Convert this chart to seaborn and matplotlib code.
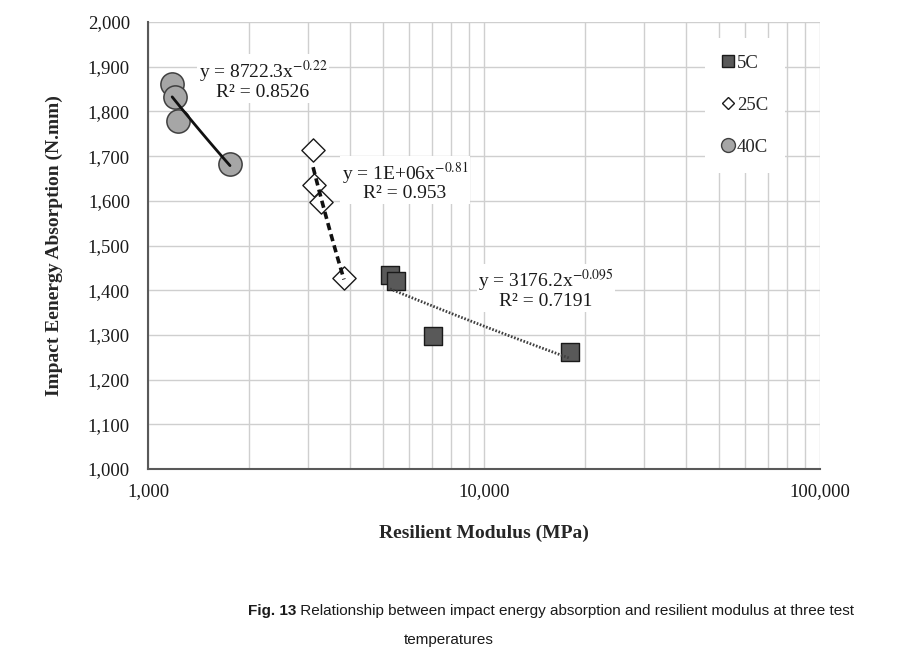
import numpy as np
import pandas as pd
import matplotlib
matplotlib.use("Agg")
import matplotlib.pyplot as plt
import seaborn as sns
from matplotlib.ticker import FuncFormatter, LogLocator
from matplotlib.lines import Line2D

# ---- data ----
mod_5c = [5250, 5470, 7050, 18000]
ene_5c = [1434, 1421, 1298, 1262]
mod_25c = [3100, 3120, 3275, 3830]
ene_25c = [1714, 1635, 1597, 1427]
mod_40c = [1180, 1203, 1228, 1754]
ene_40c = [1861, 1832, 1778, 1682]
series_names = ["5C", "25C", "40C"]
eq_texts = ["y = 3176.2x$^{-0.095}$\nR² = 0.7191",
            "y = 1E+06x$^{-0.81}$\nR² = 0.953",
            "y = 8722.3x$^{-0.22}$\nR² = 0.8526"]
y_ticks = list(range(1000, 2001, 100))
caption_fig = "Fig. 13"
caption_line1 = " Relationship between impact energy absorption and resilient modulus at three test"
caption_line2 = "temperatures"

df = pd.concat([
    pd.DataFrame({"mod": mod_5c, "ene": ene_5c, "T": "5C"}),
    pd.DataFrame({"mod": mod_25c, "ene": ene_25c, "T": "25C"}),
    pd.DataFrame({"mod": mod_40c, "ene": ene_40c, "T": "40C"}),
], ignore_index=True)

sns.set_style("white")
plt.rcParams["font.family"] = ["Liberation Serif", "DejaVu Serif"]
plt.rcParams["mathtext.fontset"] = "stix"

W, H = 921, 665
fig = plt.figure(figsize=(W / 100, H / 100), dpi=100)
ax = fig.add_axes([148 / W, 1 - 469 / H, 672 / W, 447 / H])

ax.set_xscale("log")
ax.set_xlim(1000, 100000)
ax.set_ylim(1000, 2000)

grid_c = "#cfcfcf"
ax.set_yticks(y_ticks)
ax.xaxis.set_major_locator(LogLocator(base=10, numticks=10))
ax.xaxis.set_minor_locator(LogLocator(base=10, subs=np.arange(2, 10), numticks=20))
ax.grid(True, which="major", axis="both", color=grid_c, lw=1, zorder=0)
ax.grid(True, which="minor", axis="x", color=grid_c, lw=1, zorder=0)
ax.set_axisbelow(True)

styles = {
    "5C": dict(marker="s", s=180, color="#595959", edgecolor="#1a1a1a", lw=1.0),
    "25C": dict(marker="D", s=140, color="white", edgecolor="#1a1a1a", lw=1.0),
    "40C": dict(marker="o", s=280, color="#a6a6a6", edgecolor="#404040", lw=1.1),
}
for name in series_names:
    sub = df[df["T"] == name]
    st = styles[name]
    sns.scatterplot(data=sub, x="mod", y="ene", ax=ax, marker=st["marker"], s=st["s"],
                    color=st["color"], edgecolor=st["edgecolor"], linewidth=st["lw"],
                    zorder=3, legend=False)

# power-law trendlines (least squares in log-log space)
line_styles = {
    "5C": dict(color="#404040", lw=2.0, ls=(0, (0.6, 0.6))),
    "25C": dict(color="#111111", lw=2.6, ls=(0, (2.0, 1.2))),
    "40C": dict(color="#111111", lw=2.0, ls="-"),
}
for name in series_names:
    sub = df[df["T"] == name]
    b, ln_a = np.polyfit(np.log(sub["mod"]), np.log(sub["ene"]), 1)
    xs = np.geomspace(sub["mod"].min(), sub["mod"].max(), 60)
    ys = np.exp(ln_a) * xs ** b
    sns.lineplot(x=xs, y=ys, ax=ax, color=line_styles[name]["color"],
                 lw=line_styles[name]["lw"], linestyle=line_styles[name]["ls"],
                 zorder=4, legend=False)

# equation labels (pixel centres converted to axes fractions)
eq_px = [(546, 289), (405, 181), (263, 80)]
for txt, (px, py) in zip(eq_texts, eq_px):
    ax.text((px - 148) / 672, (469 - py) / 447, txt, transform=ax.transAxes,
            ha="center", va="center", fontsize=14, color="#1a1a1a",
            linespacing=0.98, zorder=5,
            bbox=dict(facecolor="white", edgecolor="none", pad=1.0))

# axes styling
for sp in ["top", "right"]:
    ax.spines[sp].set_visible(False)
for sp in ["left", "bottom"]:
    ax.spines[sp].set_color("#595959")
    ax.spines[sp].set_linewidth(1.5)
ax.xaxis.set_major_formatter(FuncFormatter(lambda v, p: f"{int(round(v)):,}"))
ax.yaxis.set_major_formatter(FuncFormatter(lambda v, p: f"{int(round(v)):,}"))
ax.xaxis.set_minor_formatter(FuncFormatter(lambda v, p: ""))
ax.tick_params(axis="x", which="major", direction="out", length=5, width=1, color="#595959",
               labelsize=13.5, labelcolor="#1a1a1a", pad=5)
ax.tick_params(axis="x", which="minor", length=0)
ax.tick_params(axis="y", which="major", direction="out", length=0, labelsize=13.5,
               labelcolor="#1a1a1a", pad=13)

ax.set_xlabel("Resilient Modulus (MPa)", fontsize=14, fontweight="bold", labelpad=18)
ax.set_ylabel("Impact Eenergy Absorption (N.mm)", fontsize=14, fontweight="bold", labelpad=18)

# legend
handles = []
for name in series_names:
    st = styles[name]
    ms = {"s": 9, "D": 6.5, "o": 10}[st["marker"]]
    handles.append(Line2D([], [], ls="none", marker=st["marker"], markersize=ms,
                          markerfacecolor=st["color"], markeredgecolor=st["edgecolor"],
                          markeredgewidth=1.0, label=name))
leg = ax.legend(handles=handles, loc="upper left", bbox_to_anchor=(0.829, 0.965),
                frameon=True, fontsize=13.5, labelspacing=1.33, handlelength=0.6,
                handletextpad=0.2, borderpad=0.9, borderaxespad=0)
leg.get_frame().set_facecolor("white")
leg.get_frame().set_edgecolor("none")
leg.get_frame().set_alpha(1)

# caption, sized to the reference line width
cap_font = ["Liberation Sans", "DejaVu Sans"]
renderer = fig.canvas.get_renderer()
fs = 12
t0 = fig.text(248 / W, 1 - 611 / H, caption_fig, ha="left", va="center", fontsize=fs,
              family=cap_font, color="#1a1a1a", fontweight="bold")
t1 = fig.text(0, 1 - 611 / H, caption_line1, ha="left", va="center", fontsize=fs,
              family=cap_font, color="#1a1a1a")
w0 = t0.get_window_extent(renderer).width
w1 = t1.get_window_extent(renderer).width
fs = fs * 607 / (w0 + w1)
t0.set_fontsize(fs)
t1.set_fontsize(fs)
w0 = t0.get_window_extent(renderer).width
t1.set_x((248 + w0) / W)
fig.text(449 / W, 1 - 640 / H, caption_line2, ha="center", va="center", fontsize=fs,
         family=cap_font, color="#1a1a1a")

fig.savefig("out.png", dpi=100, facecolor="white")
